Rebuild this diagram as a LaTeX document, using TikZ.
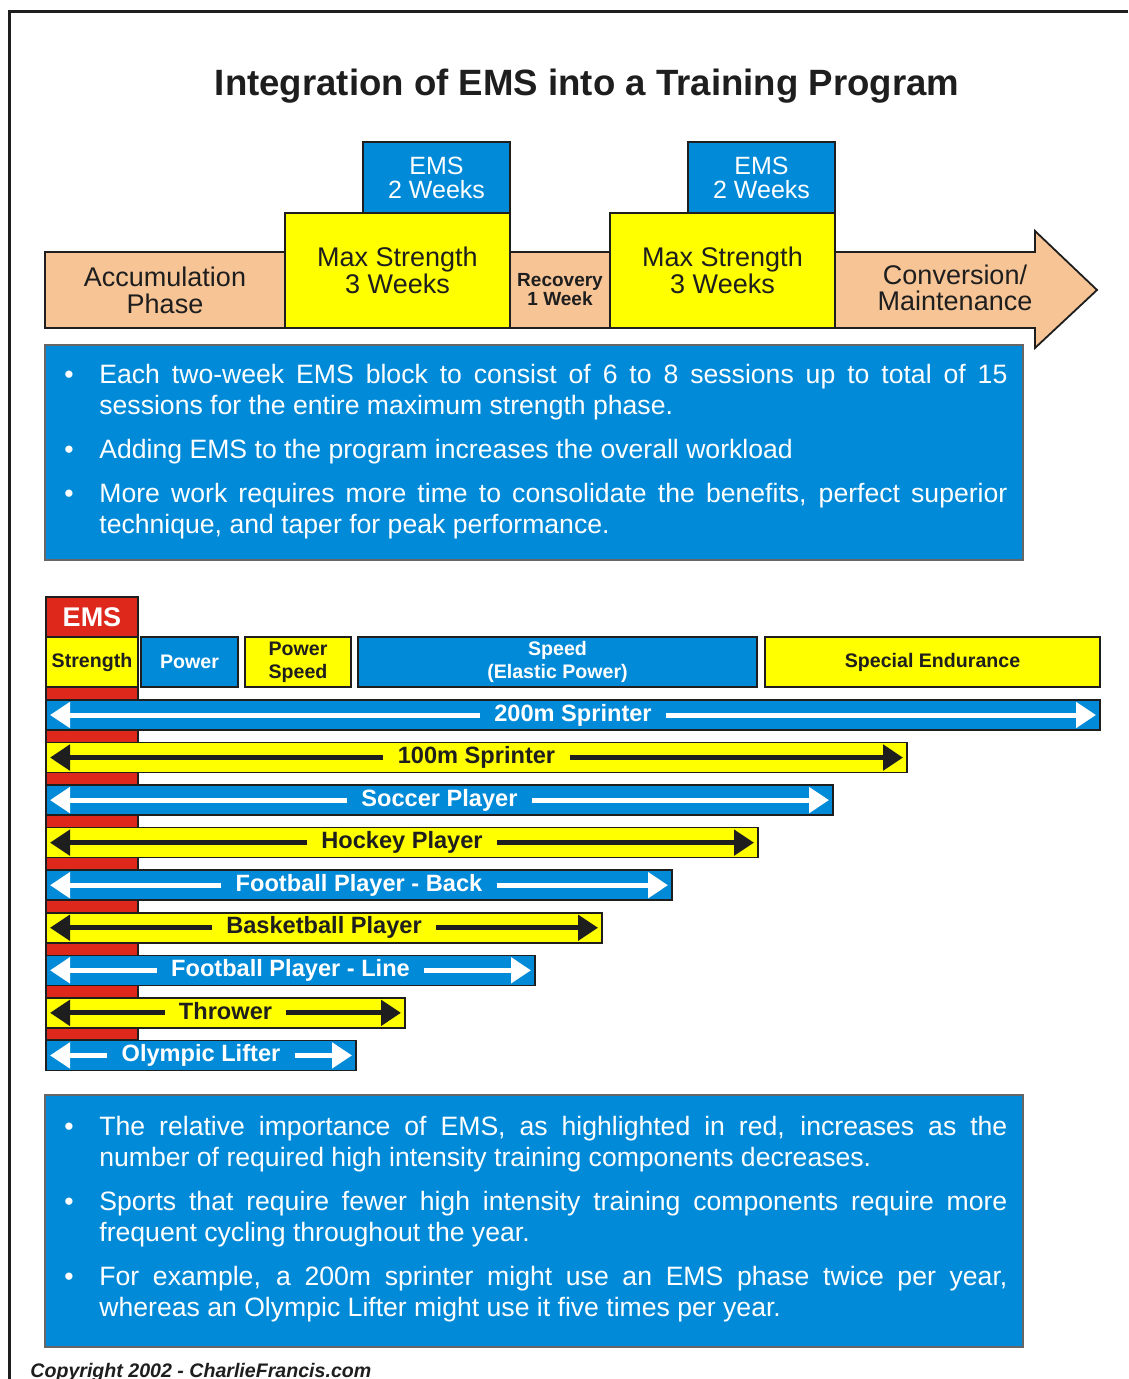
\documentclass[tikz,border=0pt]{standalone}
\usepackage{fontspec}
\setmainfont{Liberation Sans}
\usetikzlibrary{positioning,arrows.meta}
\definecolor{emsblue}{RGB}{0,138,216}
\definecolor{emsyellow}{RGB}{255,255,0}
\definecolor{peach}{RGB}{247,196,150}
\definecolor{emsred}{RGB}{222,40,28}
\definecolor{ink}{RGB}{30,30,30}
\hyphenpenalty=10000
\exhyphenpenalty=10000
% one bullet point of an info box
\newcommand\emsitem[1]{\par\noindent\hangindent=17.5pt\hangafter=1\makebox[17.5pt][l]{\textbullet}#1\par}

\begin{document}
\begin{tikzpicture}[x=0.5pt, y=-0.5pt,
	phase/.style = {shape=rectangle, draw=ink, line width=0.9pt, fill=peach, align=center, inner sep=0pt, outer sep=0pt, text=ink, font=\fontsize{13.5}{13.5}\selectfont},
	maxbox/.style = {phase, fill=emsyellow, minimum width=112.5pt, minimum height=57.5pt},
	emsbox/.style = {phase, fill=emsblue, text=white, minimum width=73.5pt, minimum height=35.5pt, font=\fontsize{12.5}{12}\selectfont},
	infobox/.style = {shape=rectangle, draw=black!60, line width=0.6pt, fill=emsblue, minimum width=489pt, inner sep=0pt, outer sep=0pt},
	infotext/.style = {text width=471.5pt, align=justify, text=white, inner sep=0pt, font=\fontsize{13.3}{15.5}\selectfont},
	comp/.style = {shape=rectangle, draw=ink, line width=0.8pt, align=center, minimum height=25pt, inner sep=0pt, outer sep=0pt, font=\bfseries\fontsize{9.8}{11.5}\selectfont},
	comp-b/.style = {comp, fill=emsblue, text=white},
	comp-y/.style = {comp, fill=emsyellow, text=ink},
	bar-b/.style = {comp, fill=emsblue, minimum height=15pt},
	bar-y/.style = {comp, fill=emsyellow, minimum height=15pt},
	lbl-b/.style = {inner xsep=7pt, inner ysep=0pt, text height=8.5pt, text depth=2.3pt, text=white, font=\bfseries\fontsize{11.8}{12}\selectfont},
	lbl-y/.style = {lbl-b, text=ink},
	arr-b/.style = {draw=white, line width=2.5pt, -{Triangle[length=10pt,width=12.5pt]}},
	arr-y/.style = {arr-b, draw=ink}]
	\useasboundingbox (0,0) rectangle (1128,1379);
	\fill[white] (0,0) rectangle (1128,1379);
	\draw[line width=1.5pt, ink] (1128,12) -- (9,12) -- (9,1379);

	\node[font=\bfseries\fontsize{18.3}{22}\selectfont, text=ink] (title) at (587,86) {Integration of EMS into a Training Program};

	% phases
	\node[phase, minimum width=120pt, minimum height=38pt, anchor=north west] (accum) at (45,252) {Accumulation\\Phase};
	\node[maxbox, anchor=south west] (max1) at (accum.south east) {Max Strength\\3 Weeks};
	\node[emsbox, anchor=south east] (ems1) at (max1.north east) {EMS\\2 Weeks};
	\node[phase, minimum width=50pt, minimum height=38pt, anchor=south west, font=\bfseries\fontsize{9.5}{9.5}\selectfont] (recov) at (max1.south east) {Recovery\\1 Week};
	\draw[draw=ink, fill=peach, line width=0.9pt] (835,328) -- (835,252) -- (1035,252) -- (1035,231) -- (1097,290) -- (1035,348) -- (1035,328) -- cycle;
	\node[maxbox, anchor=south west] (max2) at (recov.south east) {Max Strength\\3 Weeks};
	\node[emsbox, anchor=south east] (ems2) at (max2.north east) {EMS\\2 Weeks};
	\node[align=center, text=ink, font=\fontsize{13.5}{13}\selectfont] (conv) at (955,288) {Conversion/\\Maintenance};

	\node[infobox, minimum height=107.5pt, anchor=north west] (info1) at (45,345) {};
	\node[infotext, anchor=north west] (txt1) at (64,352) {%
		\emsitem{Each two-week EMS block to consist of 6 to 8 sessions up to total of 15\linebreak sessions for the entire maximum strength phase.}\vspace{6.5pt}
		\emsitem{Adding EMS to the program increases the overall workload}\vspace{6.5pt}
		\emsitem{More work requires more time to consolidate the benefits, perfect superior\linebreak technique, and taper for peak performance.}};

	% training components
	\node[comp-y, minimum width=46pt, anchor=north west] (strength) at (46,637) {Strength};
	\node[comp, fill=emsred, text=white, minimum width=46pt, minimum height=20pt, anchor=south, font=\bfseries\fontsize{13.5}{14}\selectfont] (emshead) at (strength.north) {EMS};
	\node[comp-b, minimum width=48.5pt, right=1.5pt of strength] (power) {Power};
	\node[comp-y, minimum width=53pt, right=3.5pt of power] (pspeed) {Power\\Speed};
	\node[comp-b, minimum width=199.5pt, right=3.5pt of pspeed] (speed) {Speed\\(Elastic Power)};
	\node[comp-y, minimum width=167.5pt, right=4pt of speed] (special) {Special Endurance};
	\filldraw[fill=emsred, draw=ink, line width=0.8pt] (strength.south west) rectangle (138,1040);

	\foreach \i/\w/\txt/\k in {0/527/200m Sprinter/b, 1/430.5/100m Sprinter/y, 2/393.5/Soccer Player/b, 3/356/Hockey Player/y, 4/313/Football Player - Back/b, 5/278/Basketball Player/y, 6/244.5/Football Player - Line/b, 7/179.5/Thrower/y, 8/155/Olympic Lifter/b}{
		\node[bar-\k, minimum width=\w pt, anchor=west] (bar\i) at (46,715+42.55*\i) {};
		\node[lbl-\k] (lbl\i) at (bar\i.center) {\txt};
		\draw[arr-\k] (lbl\i.west) -- ([xshift=2pt]bar\i.west);
		\draw[arr-\k] (lbl\i.east) -- ([xshift=-2pt]bar\i.east);
	}

	\node[infobox, minimum height=126pt, anchor=north west] (info2) at (45,1095) {};
	\node[infotext, anchor=north west] (txt2) at (64,1104) {%
		\emsitem{The relative importance of EMS, as highlighted in red, increases as the\linebreak number of required high intensity training components decreases.}\vspace{6.5pt}
		\emsitem{Sports that require fewer high intensity training components require more\linebreak frequent cycling throughout the year.}\vspace{6.5pt}
		\emsitem{For example, a 200m sprinter might use an EMS phase twice per year,\linebreak whereas an Olympic Lifter might use it five times per year.}};

	\node[anchor=base west, inner sep=0pt, text=ink, font=\bfseries\itshape\fontsize{9.8}{11}\selectfont] (copy) at (30,1377) {Copyright 2002 - CharlieFrancis.com};
\end{tikzpicture}
\end{document}
